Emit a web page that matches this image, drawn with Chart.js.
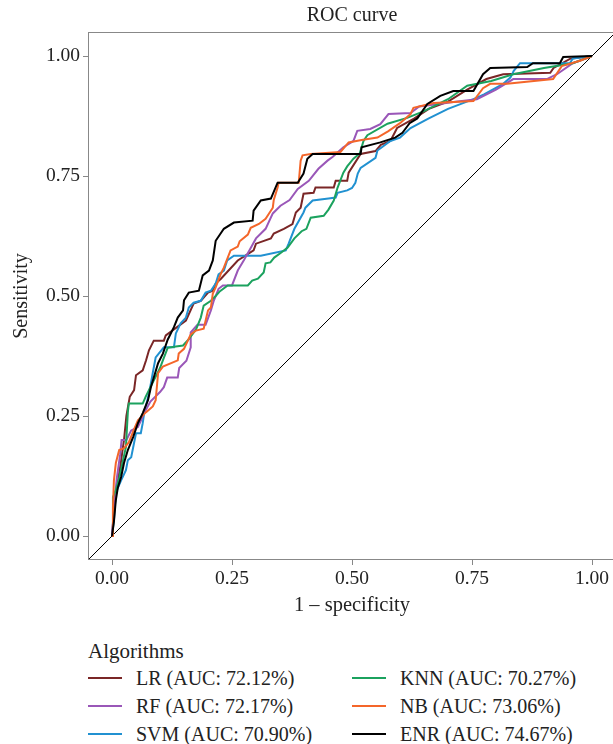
<!DOCTYPE html>
<html>
<head>
<meta charset="utf-8">
<script src="https://cdn.jsdelivr.net/npm/chart.js@4.4.0/dist/chart.umd.min.js"></script>
<style>
  body { margin: 0; background: #fff; overflow: hidden; }
  #wrap { position: relative; width: 613px; height: 744px; overflow: hidden; font-family: "Liberation Serif", serif; color: #222; }
  #roc { position: absolute; left: 0; top: 0; }
  #legend { position: absolute; left: 88px; top: 640px; width: 525px; height: 104px; font-size: 20px; }
  #legend .ttl { position: absolute; left: 0; top: 0; line-height: 22px; font-size: 21px; white-space: nowrap; }
  #legend .item { position: absolute; height: 28px; line-height: 28px; white-space: nowrap; }
  #legend .swatch { position: absolute; left: 0; top: 13px; width: 34px; height: 2px; }
  #legend .lab { position: absolute; left: 48px; top: 0; }
</style>
</head>
<body>
<div id="wrap">
  <canvas id="roc" width="620" height="625"></canvas>
  <div id="legend"></div>
</div>
<script>
// ROC points (1 - specificity, sensitivity)
const lrFpr = [0, 0.004, 0.01, 0.018, 0.025, 0.03, 0.037, 0.046, 0.05, 0.064, 0.071, 0.077, 0.087, 0.108, 0.112, 0.154, 0.17, 0.185, 0.2, 0.21, 0.216, 0.227, 0.262, 0.295, 0.3, 0.331, 0.337, 0.358, 0.376, 0.383, 0.393, 0.399, 0.42, 0.424, 0.462, 0.466, 0.49, 0.493, 0.518, 0.549, 0.56, 0.58, 0.594, 0.63, 0.66, 0.70, 0.74, 0.78, 0.815, 0.913, 0.92, 0.954, 1];
const lrTpr = [0, 0.05, 0.10, 0.15, 0.20, 0.25, 0.29, 0.304, 0.335, 0.345, 0.366, 0.387, 0.407, 0.407, 0.418, 0.449, 0.484, 0.49, 0.507, 0.511, 0.526, 0.536, 0.574, 0.595, 0.609, 0.62, 0.63, 0.64, 0.65, 0.674, 0.684, 0.713, 0.715, 0.726, 0.726, 0.74, 0.74, 0.757, 0.796, 0.802, 0.815, 0.823, 0.85, 0.87, 0.89, 0.905, 0.93, 0.952, 0.962, 0.965, 0.975, 0.994, 1];

const rfFpr = [0, 0.005, 0.01, 0.017, 0.02, 0.03, 0.04, 0.054, 0.06, 0.067, 0.08, 0.1, 0.108, 0.115, 0.137, 0.14, 0.155, 0.164, 0.164, 0.178, 0.195, 0.206, 0.212, 0.222, 0.231, 0.25, 0.262, 0.275, 0.289, 0.3, 0.32, 0.335, 0.351, 0.37, 0.387, 0.41, 0.43, 0.449, 0.46, 0.482, 0.503, 0.511, 0.538, 0.559, 0.576, 0.622, 0.64, 0.68, 0.72, 0.76, 0.80, 0.836, 0.906, 0.927, 0.96, 1];
const rfTpr = [0, 0.07, 0.12, 0.17, 0.2, 0.2, 0.22, 0.227, 0.24, 0.256, 0.28, 0.30, 0.31, 0.33, 0.33, 0.35, 0.365, 0.393, 0.424, 0.44, 0.44, 0.47, 0.49, 0.515, 0.522, 0.522, 0.553, 0.575, 0.60, 0.62, 0.64, 0.672, 0.688, 0.70, 0.723, 0.74, 0.765, 0.782, 0.79, 0.81, 0.823, 0.844, 0.848, 0.858, 0.879, 0.881, 0.895, 0.90, 0.905, 0.91, 0.93, 0.952, 0.952, 0.962, 0.985, 1];

const svmFpr = [0, 0.004, 0.008, 0.012, 0.019, 0.029, 0.033, 0.04, 0.05, 0.06, 0.064, 0.067, 0.077, 0.081, 0.085, 0.091, 0.108, 0.129, 0.133, 0.143, 0.154, 0.160, 0.17, 0.185, 0.195, 0.206, 0.216, 0.222, 0.233, 0.24, 0.254, 0.31, 0.362, 0.368, 0.38, 0.399, 0.403, 0.418, 0.451, 0.466, 0.47, 0.49, 0.5, 0.507, 0.512, 0.518, 0.549, 0.553, 0.58, 0.60, 0.622, 0.66, 0.70, 0.753, 0.775, 0.815, 0.83, 0.837, 0.85, 0.954, 0.96, 1];
const svmTpr = [0, 0.033, 0.09, 0.10, 0.116, 0.137, 0.158, 0.164, 0.214, 0.214, 0.235, 0.256, 0.297, 0.318, 0.34, 0.372, 0.393, 0.393, 0.422, 0.443, 0.455, 0.476, 0.486, 0.49, 0.507, 0.511, 0.526, 0.545, 0.553, 0.574, 0.584, 0.584, 0.595, 0.609, 0.64, 0.674, 0.684, 0.699, 0.703, 0.705, 0.715, 0.72, 0.725, 0.736, 0.755, 0.767, 0.788, 0.803, 0.823, 0.83, 0.85, 0.87, 0.89, 0.91, 0.92, 0.942, 0.955, 0.969, 0.985, 0.985, 0.995, 1];

const knnFpr = [0, 0.002, 0.008, 0.015, 0.023, 0.029, 0.033, 0.035, 0.064, 0.07, 0.09, 0.1, 0.106, 0.116, 0.133, 0.148, 0.16, 0.175, 0.185, 0.191, 0.206, 0.216, 0.225, 0.241, 0.283, 0.292, 0.304, 0.316, 0.32, 0.33, 0.338, 0.352, 0.366, 0.38, 0.395, 0.405, 0.414, 0.441, 0.451, 0.462, 0.47, 0.482, 0.49, 0.503, 0.516, 0.524, 0.532, 0.574, 0.615, 0.65, 0.70, 0.74, 0.79, 0.836, 0.9, 0.96, 1];
const knnTpr = [0, 0.081, 0.096, 0.12, 0.158, 0.185, 0.258, 0.276, 0.276, 0.29, 0.33, 0.35, 0.366, 0.392, 0.395, 0.397, 0.41, 0.43, 0.455, 0.48, 0.49, 0.50, 0.51, 0.522, 0.522, 0.532, 0.536, 0.549, 0.568, 0.57, 0.58, 0.59, 0.601, 0.62, 0.635, 0.64, 0.663, 0.667, 0.68, 0.699, 0.726, 0.757, 0.77, 0.786, 0.797, 0.823, 0.835, 0.859, 0.871, 0.885, 0.91, 0.938, 0.948, 0.962, 0.975, 0.985, 1];

const nbFpr = [0, 0.002, 0.004, 0.008, 0.015, 0.025, 0.035, 0.045, 0.054, 0.071, 0.085, 0.091, 0.096, 0.106, 0.137, 0.139, 0.15, 0.164, 0.175, 0.191, 0.2, 0.206, 0.21, 0.216, 0.227, 0.233, 0.247, 0.262, 0.266, 0.283, 0.289, 0.306, 0.32, 0.335, 0.337, 0.345, 0.347, 0.389, 0.393, 0.397, 0.414, 0.476, 0.493, 0.52, 0.553, 0.575, 0.6, 0.622, 0.628, 0.67, 0.753, 0.773, 0.788, 0.823, 0.919, 0.937, 0.975, 1];
const nbTpr = [0, 0.06, 0.116, 0.152, 0.179, 0.183, 0.195, 0.22, 0.241, 0.258, 0.27, 0.283, 0.339, 0.353, 0.366, 0.38, 0.39, 0.42, 0.428, 0.432, 0.47, 0.476, 0.505, 0.518, 0.547, 0.559, 0.595, 0.603, 0.614, 0.628, 0.642, 0.65, 0.661, 0.684, 0.70, 0.726, 0.736, 0.736, 0.782, 0.793, 0.796, 0.80, 0.82, 0.825, 0.83, 0.843, 0.86, 0.879, 0.892, 0.902, 0.906, 0.933, 0.942, 0.942, 0.952, 0.979, 0.99, 1];

const enrFpr = [0, 0.004, 0.008, 0.012, 0.019, 0.025, 0.033, 0.044, 0.054, 0.064, 0.075, 0.081, 0.096, 0.106, 0.116, 0.129, 0.137, 0.148, 0.150, 0.160, 0.181, 0.189, 0.202, 0.210, 0.216, 0.233, 0.254, 0.293, 0.295, 0.310, 0.331, 0.345, 0.387, 0.399, 0.407, 0.418, 0.518, 0.52, 0.559, 0.59, 0.605, 0.62, 0.636, 0.657, 0.684, 0.711, 0.753, 0.773, 0.788, 0.865, 0.877, 0.933, 0.94, 1.0];
const enrTpr = [0, 0.03, 0.075, 0.10, 0.123, 0.152, 0.179, 0.206, 0.235, 0.256, 0.283, 0.310, 0.360, 0.380, 0.409, 0.435, 0.455, 0.470, 0.491, 0.507, 0.511, 0.543, 0.553, 0.574, 0.615, 0.640, 0.653, 0.657, 0.678, 0.699, 0.703, 0.736, 0.736, 0.755, 0.786, 0.796, 0.796, 0.81, 0.82, 0.83, 0.84, 0.86, 0.87, 0.90, 0.917, 0.927, 0.927, 0.962, 0.975, 0.977, 0.985, 0.985, 0.998, 1.0];

const modelNames = ['LR', 'RF', 'SVM', 'KNN', 'NB', 'ENR'];
const aucValues = ['72.12', '72.17', '70.90', '70.27', '73.06', '74.67'];
const fprList = [lrFpr, rfFpr, svmFpr, knnFpr, nbFpr, enrFpr];
const tprList = [lrTpr, rfTpr, svmTpr, knnTpr, nbTpr, enrTpr];
const colors = ['#7a2626', '#9a57b8', '#2191d1', '#1ba25e', '#f4662a', '#000000'];
const drawOrder = [5, 3, 4, 2, 1, 0];

// chance line y = x across the whole panel
const refX = [-0.05, 1.05];
const refY = [-0.05, 1.05];
const tickVals = [0, 0.25, 0.5, 0.75, 1];

const fam = '"Liberation Serif", serif';
const txt = '#222';

const datasets = modelNames.map((name, i) => ({
  label: name + ' (AUC: ' + aucValues[i] + '%)',
  data: fprList[i].map((x, j) => ({ x: x, y: tprList[i][j] })),
  showLine: true,
  borderColor: colors[i],
  borderWidth: 2,
  pointRadius: 0,
  tension: 0,
  clip: 0,
  order: drawOrder[i]
}));
datasets.push({
  label: 'ref',
  data: refX.map((x, j) => ({ x: x, y: refY[j] })),
  showLine: true,
  borderColor: '#000',
  borderWidth: 1,
  pointRadius: 0,
  clip: 0,
  order: 9
});

const panelBox = {
  id: 'panelBox',
  afterDraw(chart) {
    const a = chart.chartArea, ctx = chart.ctx;
    ctx.save();
    ctx.strokeStyle = '#888';
    ctx.lineWidth = 1;
    ctx.strokeRect(a.left + 0.5, a.top + 0.5, a.right - a.left - 1, a.bottom - a.top - 1);
    ctx.restore();
  }
};

function setTicks(scale) {
  scale.ticks = tickVals.map(v => ({ value: v }));
}

new Chart(document.getElementById('roc'), {
  type: 'scatter',
  data: { datasets: datasets },
  options: {
    responsive: false,
    animation: false,
    devicePixelRatio: 1,
    layout: { padding: { left: 0, right: 4, top: 0, bottom: 0 } },
    plugins: {
      legend: { display: false },
      tooltip: { enabled: false },
      title: {
        display: true,
        text: 'ROC curve',
        fullSize: false,
        color: txt,
        font: { family: fam, size: 20, weight: 'normal' },
        padding: { top: 4, bottom: 4 }
      }
    },
    scales: {
      x: {
        type: 'linear',
        min: -0.05,
        max: 1.05,
        afterBuildTicks: setTicks,
        afterFit: s => { s.height = 65; },
        ticks: { callback: v => Number(v).toFixed(2), color: txt, font: { family: fam, size: 19.5 }, padding: 2, maxRotation: 0 },
        grid: { drawOnChartArea: false, drawTicks: true, tickLength: 5, color: '#888' },
        border: { display: false },
        title: { display: true, text: '1 – specificity', color: txt, font: { family: fam, size: 20.5 }, padding: { top: 0, bottom: 7 } }
      },
      y: {
        type: 'linear',
        min: -0.05,
        max: 1.05,
        afterBuildTicks: setTicks,
        afterFit: s => { s.width = 88; },
        ticks: { callback: v => Number(v).toFixed(2), color: txt, font: { family: fam, size: 19.5 }, padding: 3 },
        grid: { drawOnChartArea: false, drawTicks: true, tickLength: 5, color: '#888' },
        border: { display: false },
        title: { display: true, text: 'Sensitivity', color: txt, font: { family: fam, size: 20 }, padding: { top: 10, bottom: 0 } }
      }
    }
  },
  plugins: [panelBox]
});

// legend in two columns, filled top to bottom
const legend = document.getElementById('legend');
const ttl = document.createElement('div');
ttl.className = 'ttl';
ttl.textContent = 'Algorithms';
legend.appendChild(ttl);
modelNames.forEach((name, i) => {
  const col = Math.floor(i / 3), row = i % 3;
  const item = document.createElement('div');
  item.className = 'item';
  item.style.left = (col * 264) + 'px';
  item.style.top = (24 + row * 28) + 'px';
  const sw = document.createElement('span');
  sw.className = 'swatch';
  sw.style.background = colors[i];
  const lab = document.createElement('span');
  lab.className = 'lab';
  lab.textContent = name + ' (AUC: ' + aucValues[i] + '%)';
  item.appendChild(sw);
  item.appendChild(lab);
  legend.appendChild(item);
});
</script>
</body>
</html>
